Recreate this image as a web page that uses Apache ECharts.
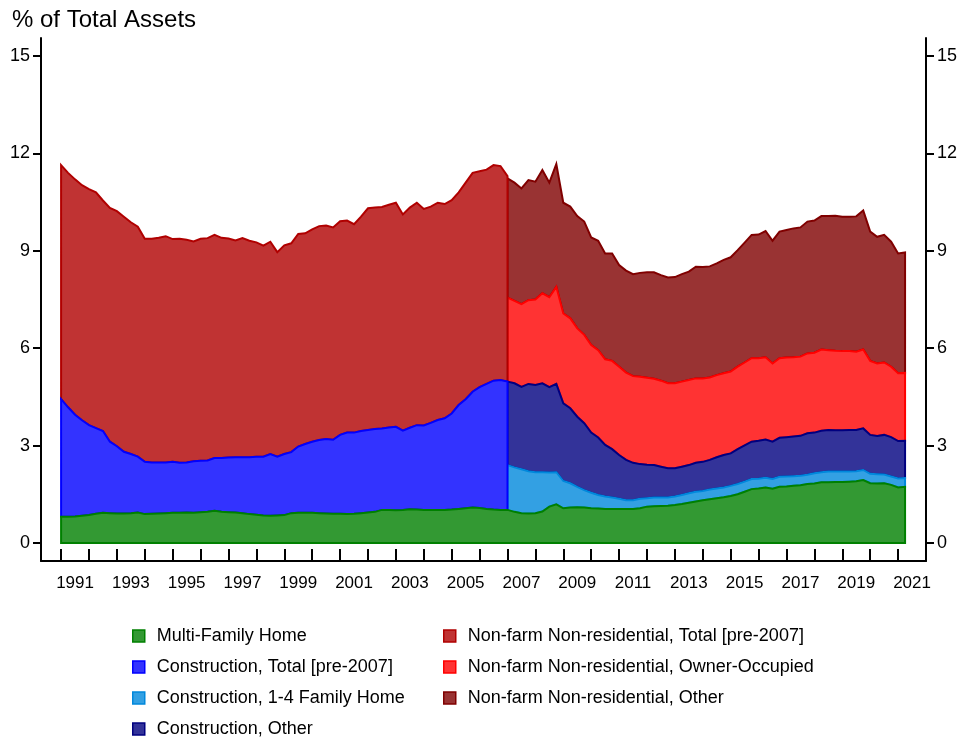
<!DOCTYPE html>
<html>
<head>
<meta charset="utf-8">
<title>% of Total Assets</title>
<script src="https://cdn.jsdelivr.net/npm/echarts@6.0.0/dist/echarts.min.js"></script>
<style>
  html, body { margin: 0; padding: 0; background: #fff; }
  #chart { width: 967px; height: 740px; }
</style>
</head>
<body>
<div id="chart"></div>
<script>
// quarterly, 1991Q1 .. 2021Q2
const quarters = [];
for (let i = 0; i < 122; i++) quarters.push(1991 + i / 4);

const yearTicks = [];
for (let y = 1991; y <= 2021; y++) yearTicks.push(y);
const yearLabels = [];
for (let y = 1991; y <= 2021; y += 2) yearLabels.push(y + 0.5);
const valueTicks = [0, 3, 6, 9, 12, 15];

// 1991Q1 .. 2021Q2
const multiFamily = [
  0.81, 0.81, 0.82, 0.84, 0.86, 0.90, 0.93, 0.92, 0.91, 0.91,
  0.92, 0.94, 0.89, 0.90, 0.91, 0.92, 0.93, 0.93, 0.94, 0.93,
  0.95, 0.96, 0.99, 0.96, 0.95, 0.94, 0.92, 0.89, 0.87, 0.85,
  0.84, 0.85, 0.86, 0.92, 0.93, 0.93, 0.93, 0.92, 0.91, 0.90,
  0.90, 0.89, 0.90, 0.92, 0.94, 0.96, 1.02, 1.02, 1.01, 1.02,
  1.04, 1.03, 1.02, 1.02, 1.02, 1.02, 1.03, 1.05, 1.07, 1.09,
  1.08, 1.05, 1.03, 1.02, 1.02, 0.96, 0.92, 0.91, 0.92, 0.97,
  1.12, 1.19, 1.07, 1.09, 1.10, 1.09, 1.07, 1.06, 1.05, 1.05,
  1.05, 1.05, 1.05, 1.07, 1.12, 1.13, 1.14, 1.15, 1.17, 1.20,
  1.24, 1.28, 1.32, 1.35, 1.38, 1.41, 1.45, 1.50, 1.58, 1.66,
  1.68, 1.71, 1.67, 1.73, 1.74, 1.76, 1.78, 1.82, 1.83, 1.87,
  1.87, 1.88, 1.88, 1.89, 1.90, 1.94, 1.84, 1.83, 1.84, 1.79,
  1.71, 1.73
];

// 1991Q1 .. 2007Q1
const constructionTotal = [
  3.62, 3.37, 3.13, 2.94, 2.77, 2.64, 2.52, 2.20, 2.07, 1.90,
  1.82, 1.72, 1.61, 1.58, 1.57, 1.56, 1.57, 1.54, 1.54, 1.59,
  1.58, 1.58, 1.63, 1.66, 1.68, 1.70, 1.72, 1.75, 1.79, 1.81,
  1.90, 1.81, 1.88, 1.88, 2.04, 2.12, 2.19, 2.25, 2.29, 2.28,
  2.43, 2.51, 2.50, 2.53, 2.54, 2.55, 2.51, 2.54, 2.57, 2.44,
  2.51, 2.60, 2.60, 2.68, 2.77, 2.82, 2.96, 3.20, 3.36, 3.57,
  3.72, 3.85, 3.97, 4.00, 3.95
];
const nonfarmTotal = [
  7.21, 7.22, 7.25, 7.24, 7.27, 7.26, 7.10, 7.20, 7.24, 7.24,
  7.14, 7.08, 6.87, 6.89, 6.92, 6.97, 6.86, 6.90, 6.86, 6.77,
  6.84, 6.85, 6.87, 6.78, 6.75, 6.68, 6.75, 6.67, 6.60, 6.50,
  6.54, 6.30, 6.43, 6.43, 6.55, 6.49, 6.54, 6.59, 6.58, 6.54,
  6.58, 6.53, 6.42, 6.60, 6.83, 6.82, 6.82, 6.86, 6.90, 6.66,
  6.78, 6.85, 6.67, 6.66, 6.69, 6.60, 6.57, 6.55, 6.67, 6.74,
  6.65, 6.60, 6.64, 6.59, 6.33
];

// 2007Q1 .. 2021Q2
const construction14 = [
  1.38, 1.37, 1.35, 1.30, 1.26, 1.21, 1.05, 0.99, 0.84, 0.75,
  0.63, 0.54, 0.48, 0.42, 0.38, 0.35, 0.31, 0.27, 0.27, 0.29,
  0.26, 0.27, 0.26, 0.25, 0.26, 0.28, 0.29, 0.30, 0.28, 0.30,
  0.30, 0.30, 0.31, 0.32, 0.31, 0.31, 0.30, 0.30, 0.30, 0.31,
  0.31, 0.30, 0.29, 0.28, 0.32, 0.31, 0.33, 0.32, 0.32, 0.31,
  0.31, 0.31, 0.29, 0.29, 0.27, 0.26, 0.28, 0.27
];
const constructionOther = [
  2.57, 2.59, 2.54, 2.69, 2.69, 2.74, 2.63, 2.72, 2.39, 2.31,
  2.16, 2.06, 1.85, 1.77, 1.59, 1.49, 1.35, 1.24, 1.15, 1.07,
  1.03, 1.00, 0.95, 0.90, 0.87, 0.87, 0.87, 0.89, 0.90, 0.91,
  0.96, 1.00, 1.00, 1.07, 1.12, 1.15, 1.17, 1.18, 1.15, 1.20,
  1.21, 1.22, 1.23, 1.28, 1.25, 1.28, 1.28, 1.27, 1.27, 1.28,
  1.27, 1.28, 1.20, 1.18, 1.22, 1.21, 1.15, 1.15
];
const nonfarmOwner = [
  2.59, 2.54, 2.55, 2.58, 2.63, 2.77, 2.77, 2.99, 2.77, 2.77,
  2.72, 2.72, 2.70, 2.69, 2.64, 2.72, 2.72, 2.69, 2.67, 2.69,
  2.68, 2.66, 2.65, 2.62, 2.62, 2.62, 2.62, 2.60, 2.57, 2.54,
  2.53, 2.52, 2.52, 2.54, 2.55, 2.57, 2.54, 2.53, 2.41, 2.45,
  2.45, 2.44, 2.44, 2.46, 2.46, 2.50, 2.46, 2.45, 2.44, 2.43,
  2.41, 2.43, 2.28, 2.23, 2.23, 2.17, 2.09, 2.09
];
const nonfarmOther = [
  3.67, 3.64, 3.56, 3.70, 3.63, 3.80, 3.53, 3.78, 3.41, 3.44,
  3.46, 3.49, 3.31, 3.37, 3.26, 3.31, 3.13, 3.14, 3.14, 3.20,
  3.25, 3.28, 3.25, 3.26, 3.27, 3.31, 3.34, 3.44, 3.43, 3.42,
  3.44, 3.49, 3.52, 3.59, 3.69, 3.80, 3.81, 3.89, 3.78, 3.90,
  3.93, 3.97, 3.98, 4.06, 4.07, 4.11, 4.13, 4.16, 4.14, 4.14,
  4.17, 4.28, 3.98, 3.90, 3.93, 3.85, 3.69, 3.71
];

const NAMES = {
  mf: "Multi-Family Home",
  ct: "Construction, Total [pre-2007]",
  c14: "Construction, 1-4 Family Home",
  co: "Construction, Other",
  nt: "Non-farm Non-residential, Total [pre-2007]",
  oo: "Non-farm Non-residential, Owner-Occupied",
  no: "Non-farm Non-residential, Other",
};
// line colour, fill = same colour at 80% on white
const COLORS = {
  mf: ["#008000", "#339933"],
  ct: ["#0000ff", "#3333ff"],
  c14: ["#0088dc", "#33a0e3"],
  co: ["#000080", "#333399"],
  nt: ["#b00000", "#c03333"],
  oo: ["#ff0000", "#ff3333"],
  no: ["#800000", "#993333"],
};

// stack the bands: rows of [quarter, lower, upper]
const PRE_END = constructionTotal.length - 1; // index of 2007Q1
function stackBands(keys, parts, offset) {
  const rows = {};
  keys.forEach((k) => (rows[k] = []));
  parts[0].forEach((_, j) => {
    const i = offset + j;
    let base = multiFamily[i];
    keys.forEach((k, n) => {
      const top = base + parts[n][j];
      rows[k].push([quarters[i], base, top]);
      base = top;
    });
  });
  return rows;
}
const pre = stackBands(["ct", "nt"], [constructionTotal, nonfarmTotal], 0);
const post = stackBands(
  ["c14", "co", "oo", "no"],
  [construction14, constructionOther, nonfarmOwner, nonfarmOther],
  PRE_END
);
const bands = Object.assign(
  { mf: multiFamily.map((v, i) => [quarters[i], 0, v]) },
  pre,
  post
);

function areaSeries(key) {
  const rows = bands[key];
  const [line, fill] = COLORS[key];
  return {
    type: "custom",
    name: NAMES[key],
    data: rows,
    encode: { x: 0, y: [1, 2] },
    silent: true,
    renderItem: (params, api) => {
      if (params.dataIndex !== 0) return null;
      const upper = rows.map((r) => api.coord([r[0], r[2]]));
      const lower = rows.map((r) => api.coord([r[0], r[1]])).reverse();
      return {
        type: "polygon",
        shape: { points: upper.concat(lower) },
        style: { fill: fill, stroke: line, lineWidth: 2, lineJoin: "miter" },
      };
    },
  };
}

const FONT = "Liberation Sans, Arial, Helvetica, sans-serif";

function legendBlock(keys, left) {
  return {
    orient: "vertical",
    left: left,
    top: 627,
    padding: 0,
    icon: "rect",
    itemWidth: 12,
    itemHeight: 12,
    itemGap: 13,
    selectedMode: false,
    textStyle: {
      fontFamily: FONT,
      fontSize: 18,
      lineHeight: 18,
      color: "#000",
      padding: [0, 0, 0, 7],
    },
    data: keys.map((k) => ({
      name: NAMES[k],
      itemStyle: { color: COLORS[k][1], borderColor: COLORS[k][0], borderWidth: 1.5 },
    })),
  };
}

function valueAxis(position) {
  return {
    type: "value",
    position: position,
    min: -0.554,
    max: 15.554,
    splitLine: { show: false },
    axisLine: { show: true, lineStyle: { color: "#000", width: 2 } },
    axisTick: {
      show: true,
      length: 8,
      customValues: valueTicks,
      lineStyle: { color: "#000", width: 2 },
    },
    axisLabel: {
      margin: 11,
      customValues: valueTicks,
      fontFamily: FONT,
      fontSize: 18,
      color: "#000",
    },
  };
}

const chart = echarts.init(document.getElementById("chart"), null, { renderer: "canvas" });
chart.setOption({
  animation: false,
  backgroundColor: "#fff",
  title: {
    text: "% of Total Assets",
    left: 7,
    top: 3,
    textStyle: { fontFamily: FONT, fontSize: 24, fontWeight: "normal", color: "#000" },
  },
  grid: { left: 41, right: 41, top: 38, bottom: 179 },
  legend: [legendBlock(["mf", "ct", "c14", "co"], 132), legendBlock(["nt", "oo", "no"], 443)],
  xAxis: {
    type: "value",
    min: 1990.28,
    max: 2022,
    splitLine: { show: false },
    axisLine: { onZero: false, lineStyle: { color: "#000", width: 2 } },
    axisTick: {
      inside: true,
      length: 12,
      customValues: yearTicks,
      lineStyle: { color: "#000", width: 2 },
    },
    axisLabel: {
      margin: 14,
      customValues: yearLabels,
      formatter: (v) => String(Math.floor(v)),
      fontFamily: FONT,
      fontSize: 17,
      color: "#000",
    },
  },
  yAxis: [valueAxis("left"), valueAxis("right")],
  // upper bands first so the lower band's outline sits on top
  series: ["no", "oo", "nt", "co", "c14", "ct", "mf"].map(areaSeries),
});
</script>
</body>
</html>
